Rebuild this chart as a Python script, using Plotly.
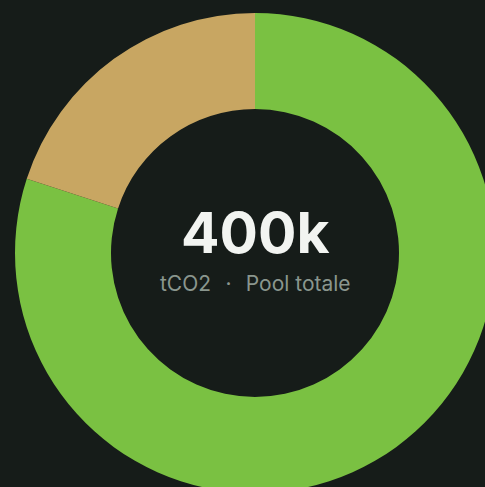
import plotly.graph_objects as go

labels = ["Disponibile", "Allocato"]
values = [320000, 80000]
colors = ["#7ac142", "#c8a662"]
total_label = "400k"
sub_label = "tCO2\u2002\u2009·\u2002\u2009Pool totale"

BG = "#161c19"

fig = go.Figure(
    go.Pie(
        labels=labels,
        values=values,
        hole=0.6,
        sort=False,
        direction="clockwise",
        rotation=0,
        marker=dict(colors=colors, line=dict(width=0)),
        textinfo="none",
        hoverinfo="label+value",
        showlegend=False,
        domain=dict(x=[0, 1], y=[0, 1]),
    )
)

fig.add_annotation(
    x=0.5, y=0.5, xref="paper", yref="paper",
    text=f"<b>{total_label}</b>", showarrow=False,
    font=dict(family="Inter", size=57, color="#f2f4f1"),
    yshift=21,
)
fig.add_annotation(
    x=0.5, y=0.5, xref="paper", yref="paper",
    text=sub_label, showarrow=False,
    font=dict(family="Inter", size=21, color="#8a968e"),
    yshift=-30,
)

fig.update_layout(
    width=510, height=508,
    margin=dict(l=15, r=15, t=13, b=15),
    paper_bgcolor=BG, plot_bgcolor=BG,
)

fig.write_html(
    "out.html",
    config={"displayModeBar": False},
    post_script=(
        "document.body.style.margin='0';"
        "document.body.style.overflow='hidden';"
        "document.body.style.background='" + BG + "';"
        "document.documentElement.style.overflow='hidden';"
    ),
)
